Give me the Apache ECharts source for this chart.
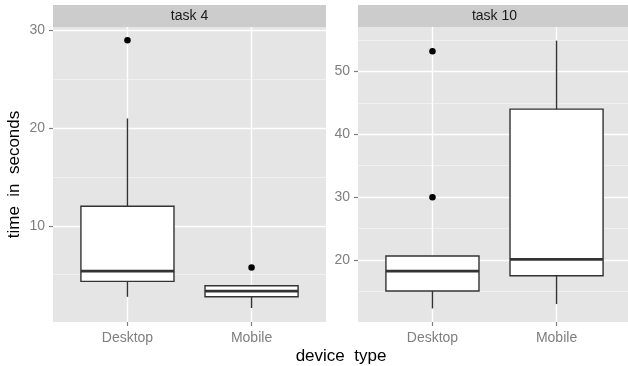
<!DOCTYPE html>
<html>
<head>
<meta charset="utf-8">
<script src="https://cdn.jsdelivr.net/npm/echarts@6/dist/echarts.min.js"></script>
<style>
html,body{margin:0;padding:0;background:#fff;}
#chart{width:628px;height:366px;}
</style>
</head>
<body>
<div id="chart"></div>
<script>
// ---- data ----
const categories = ['Desktop', 'Mobile'];
const panelTitles = ['task 4', 'task 10'];
// [lower whisker, Q1, median, Q3, upper whisker] per category
const task4Desktop = [2.73, 4.31, 5.36, 12.0, 21.0];
const task4Mobile = [1.58, 2.73, 3.32, 3.86, 3.9];
const task10Desktop = [12.3, 15.07, 18.25, 20.64, 20.64];
const task10Mobile = [13.0, 17.5, 20.1, 44.0, 54.9];
// outliers: [category, value]
const task4Outliers = [['Desktop', 29.0], ['Mobile', 5.74]];
const task10Outliers = [['Desktop', 53.2], ['Desktop', 30.0]];
// axis ticks
const task4Ticks = [10, 20, 30];
const task4Minor = [5, 15, 25];
const task10Ticks = [20, 30, 40, 50];
const task10Minor = [15, 25, 35, 45, 55];
const task4Range = [0.15, 30.37];
const task10Range = [10.15, 57.06];

// ---- build ----
const catPos = categories.map((c, i) => i + 1);
function boxData(rows) {
  return rows.map((r, i) => [i + 1].concat(r));
}
function outData(rows) {
  return rows.map(r => [categories.indexOf(r[0]) + 1, r[1]]);
}
const panels = [
  { boxes: boxData([task4Desktop, task4Mobile]), outs: outData(task4Outliers), ticks: task4Ticks, minor: task4Minor, range: task4Range },
  { boxes: boxData([task10Desktop, task10Mobile]), outs: outData(task10Outliers), ticks: task10Ticks, minor: task10Minor, range: task10Range }
];

const FONT = 'Liberation Sans, Arial, sans-serif';
const grids = [
  { left: 53, top: 27, width: 273, height: 295 },
  { left: 358, top: 27, width: 273, height: 295 }
];

function renderBox(params, api) {
  const x = api.value(0);
  const lo = api.coord([x, api.value(1)]);
  const q1 = api.coord([x, api.value(2)]);
  const md = api.coord([x, api.value(3)]);
  const q3 = api.coord([x, api.value(4)]);
  const hi = api.coord([x, api.value(5)]);
  const w = api.size([0.75, 0])[0];
  const left = lo[0] - w / 2;
  const ls = { stroke: '#333333', lineWidth: 1.4 };
  return {
    type: 'group',
    children: [
      { type: 'line', shape: { x1: lo[0], y1: lo[1], x2: q1[0], y2: q1[1] }, style: ls },
      { type: 'line', shape: { x1: q3[0], y1: q3[1], x2: hi[0], y2: hi[1] }, style: ls },
      { type: 'rect', shape: { x: left, y: q3[1], width: w, height: q1[1] - q3[1] }, style: { fill: '#ffffff', stroke: '#333333', lineWidth: 1.4 } },
      { type: 'line', shape: { x1: left, y1: md[1], x2: left + w, y2: md[1] }, style: { stroke: '#333333', lineWidth: 2.8 } }
    ]
  };
}

const option = {
  animation: false,
  backgroundColor: '#ffffff',
  grid: grids.map(g => Object.assign({ show: true, backgroundColor: '#E5E5E5', borderWidth: 0, containLabel: false, outerBoundsMode: 'none' }, g)),
  xAxis: panels.map((p, gi) => ({
    gridIndex: gi, type: 'value', min: 0.4, max: 2.6, position: 'bottom',
    axisLine: { show: false },
    axisTick: { show: true, customValues: catPos, length: 4, lineStyle: { color: '#7F7F7F', width: 1.2 } },
    axisLabel: { customValues: catPos, formatter: v => categories[Math.round(v) - 1], color: '#7F7F7F', fontSize: 14, fontFamily: FONT, margin: 9 },
    splitLine: { show: true, lineStyle: { color: '#ffffff', width: 1.4 } }
  })),
  yAxis: [],
  series: [],
  graphic: []
};

panels.forEach((p, gi) => {
  // minor grid axis
  option.yAxis.push({
    gridIndex: gi, type: 'value', min: p.range[0], max: p.range[1], position: 'left',
    axisLine: { show: false },
    axisTick: { show: false, customValues: p.minor },
    axisLabel: { show: false, customValues: p.minor },
    splitLine: { show: true, lineStyle: { color: '#F2F2F2', width: 0.8 } }
  });
  // major axis
  option.yAxis.push({
    gridIndex: gi, type: 'value', min: p.range[0], max: p.range[1], position: 'left',
    axisLine: { show: false },
    axisTick: { show: true, customValues: p.ticks, length: 4, lineStyle: { color: '#7F7F7F', width: 1.2 } },
    axisLabel: { customValues: p.ticks, color: '#7F7F7F', fontSize: 14, fontFamily: FONT, margin: 8 },
    splitLine: { show: true, lineStyle: { color: '#ffffff', width: 1.4 } },
    name: gi === 0 ? 'time  in  seconds' : '',
    nameLocation: 'middle', nameGap: 30,
    nameTextStyle: { color: '#000000', fontSize: 17, fontFamily: FONT }
  });
  option.series.push({
    type: 'custom', xAxisIndex: gi, yAxisIndex: gi * 2 + 1,
    data: p.boxes, encode: { x: 0, y: [1, 2, 3, 4, 5] },
    renderItem: renderBox, z: 3
  });
  option.series.push({
    type: 'scatter', xAxisIndex: gi, yAxisIndex: gi * 2 + 1,
    data: p.outs, symbolSize: 6.5, itemStyle: { color: '#000000', opacity: 1 }, z: 4
  });
  const g = grids[gi];
  option.graphic.push({
    type: 'rect', shape: { x: g.left, y: 5, width: g.width, height: 22 },
    style: { fill: '#CCCCCC' }, silent: true
  });
  option.graphic.push({
    type: 'text', x: g.left + g.width / 2, y: 16,
    style: { text: panelTitles[gi], fill: '#1A1A1A', font: '14px ' + FONT, textAlign: 'center', textVerticalAlign: 'middle' },
    silent: true
  });
});
option.graphic.push({
  type: 'text', x: 341, y: 356,
  style: { text: 'device  type', fill: '#000000', font: '17px ' + FONT, textAlign: 'center', textVerticalAlign: 'middle' },
  silent: true
});

const chart = echarts.init(document.getElementById('chart'), null, { renderer: 'canvas' });
chart.setOption(option);
</script>
</body>
</html>
